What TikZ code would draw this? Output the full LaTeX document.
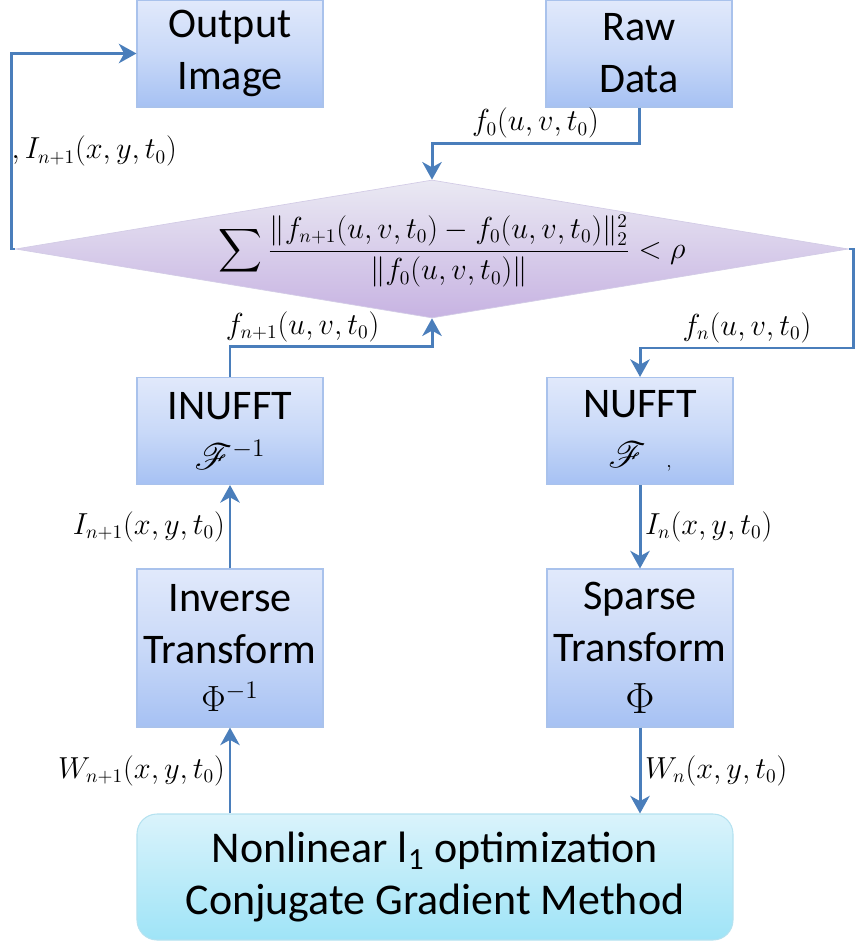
\documentclass[tikz,border=0pt]{standalone}
\usepackage{amsmath}
\usepackage[no-math]{fontspec}
\setmainfont{Carlito}
\usepackage{mathrsfs}
\usetikzlibrary{arrows.meta, shapes.geometric, positioning}

\definecolor{flowblue}{HTML}{4A7EBB}
\definecolor{boxtop}{HTML}{E1E9FB}
\definecolor{boxmid}{HTML}{C9D9F8}
\definecolor{boxbot}{HTML}{A6C1F3}
\definecolor{boxedge}{HTML}{A9C2EC}
\definecolor{opttop}{HTML}{DAF3FB}
\definecolor{optbot}{HTML}{9FE4F7}
\definecolor{optedge}{HTML}{B5E2F0}
\definecolor{dtop}{HTML}{EAE9F3}
\definecolor{dbot}{HTML}{C7B3E2}
\definecolor{dedge}{HTML}{D3CCE6}

\newcommand{\bmath}[1]{{\fontsize{21}{24}\selectfont$#1$}}

\tikzstyle{blockbox} = [rectangle, draw=boxedge, line width=0.6pt, top color=boxtop, bottom color=boxbot, middle color=boxmid, minimum width=37.2mm, align=center, font=\fontsize{24}{29.6}\selectfont]
\tikzstyle{optbox} = [rectangle, rounded corners=4mm, draw=optedge, line width=0.6pt, top color=opttop, bottom color=optbot, minimum width=119.2mm, minimum height=25.2mm, align=center, font=\fontsize{25}{29.6}\selectfont]
\tikzstyle{decision} = [diamond, draw=dedge, line width=0.4pt, top color=dtop, bottom color=dbot, minimum width=166.6mm, minimum height=27.6mm, inner sep=0pt]
\tikzstyle{flow} = [draw=flowblue, line width=1.7pt, -{Stealth[length=10pt, width=11pt, inset=3pt]}]
\tikzstyle{sig} = [font=\fontsize{16}{19}\selectfont, inner sep=2pt]

\begin{document}
\begin{tikzpicture}[x=0.2mm, y=-0.2mm]
            \useasboundingbox (0,0) rectangle (855,941);

            \node (out) [blockbox, minimum height=21.4mm] at (230,53.5) {Output\\Image};
            \node (raw) [blockbox, minimum height=21.4mm] at (639,53.5) {Raw\\Data};
            \node (check) [decision] at (432,249) {};
            \node (crit) [sig, font=\fontsize{16.3}{19}\selectfont] at (452,251) {$\displaystyle\sum\frac{\|f_{n+1}(u,v,t_0)-f_0(u,v,t_0)\|_2^2}{\|f_0(u,v,t_0)\|}<\rho$};
            \node (inufft) [blockbox, minimum height=21.4mm] at (230,431) {INUFFT\\[-1pt]\bmath{\mathscr{F}^{-1}}};
            \node (nufft) [blockbox, minimum height=21.4mm] at (640,431) {NUFFT\\[-1pt]\bmath{\mathscr{F}\;\;{\scriptscriptstyle ,}}};
            \node (inv) [blockbox, minimum height=31.6mm] at (230,648) {Inverse\\Transform\\[-2pt]\bmath{\Phi^{-1}}};
            \node (sparse) [blockbox, minimum height=31.6mm] at (640,648) {Sparse\\Transform\\$\Phi$};
            \node (opt) [optbox] at (435,877) {Nonlinear l\textsubscript{1} optimization\\Conjugate Gradient Method};

            \draw[flow] (check.west) -- ++(-3.5,0) |- node[pos=0.25, sig, anchor=west, xshift=-1mm] {$,I_{n+1}(x,y,t_0)$} (out.west);
            \draw[flow] (raw.south) -- ++(0,36) -| node[pos=0.25, above, sig] {$f_0(u,v,t_0)$} (check.north);
            \draw[flow] (check.east) -- ++(5,0) -- ++(0,99) -| node[pos=0.25, above, sig] {$f_n(u,v,t_0)$} (nufft.north);
            \draw[flow] (inufft.north) -- ++(0,-30) -| node[pos=0.18, above, sig] {$f_{n+1}(u,v,t_0)$} (check.south);
            \draw[flow] (inv.north) -- node[left, sig] {$I_{n+1}(x,y,t_0)$} (inufft.south);
            \draw[flow] (nufft.south) -- node[right, sig] {$I_n(x,y,t_0)$} (sparse.north);
            \draw[flow] (inv.south |- opt.north) -- node[left, sig] {$W_{n+1}(x,y,t_0)$} (inv.south);
            \draw[flow] (sparse.south) -- node[right, sig] {$W_n(x,y,t_0)$} (sparse.south |- opt.north);
        \end{tikzpicture}
\end{document}
